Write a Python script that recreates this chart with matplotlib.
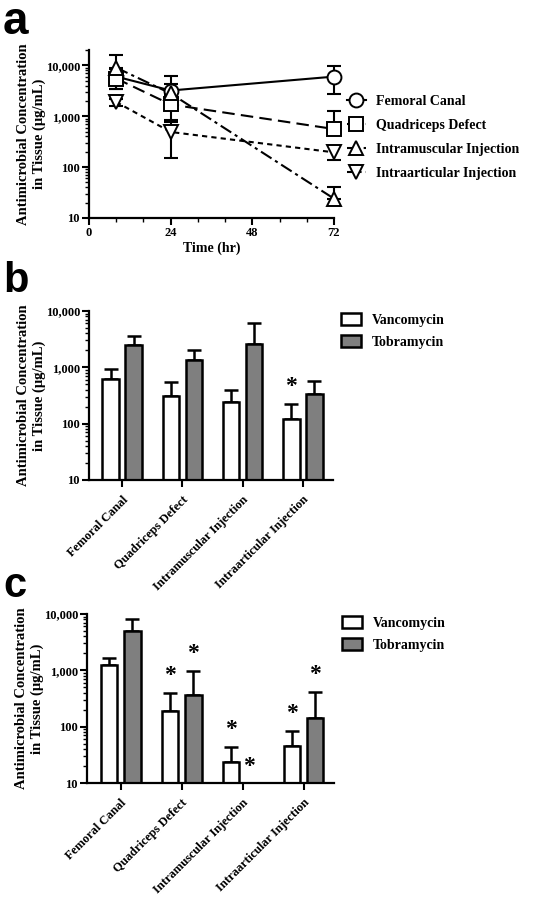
import numpy as np
import matplotlib
matplotlib.use("Agg")
import matplotlib.pyplot as plt
from matplotlib.lines import Line2D
from matplotlib.ticker import FixedLocator, MultipleLocator, LogLocator, NullFormatter

plt.rcParams["font.family"] = ["Liberation Serif", "DejaVu Serif"]
plt.rcParams["font.weight"] = "bold"

# panel a: concentration over time (lower / upper error lengths)
times = [8, 24, 72]
sites = ["Femoral Canal", "Quadriceps Defect", "Intramuscular Injection", "Intraarticular Injection"]
femoral = [6000, 3200, 6000]
femoral_lo = [2500, 1100, 3300]
femoral_hi = [2500, 1100, 3800]
quadriceps = [5500, 1700, 560]
quadriceps_lo = [2000, 930, 0]
quadriceps_hi = [2000, 930, 700]
intramuscular = [9000, 2800, 24]
intramuscular_lo = [0, 0, 0]
intramuscular_hi = [6700, 3500, 17]
intraarticular = [1900, 490, 195]
intraarticular_lo = [300, 340, 60]
intraarticular_hi = [300, 340, 60]

# panel b / c: bars
groups = ["Femoral Canal", "Quadriceps Defect", "Intramuscular Injection", "Intraarticular Injection"]
b_vanco = [630, 305, 243, 121]
b_vanco_err = [300, 235, 157, 99]
b_tobra = [2530, 1370, 2600, 340]
b_tobra_err = [1020, 690, 3500, 230]
b_vanco_star = [False, False, False, True]
b_tobra_star = [False, False, False, False]

c_vanco = [1260, 190, 24, 45]
c_vanco_err = [400, 210, 19, 40]
c_tobra = [4990, 360, np.nan, 145]
c_tobra_err = [3310, 630, np.nan, 265]
c_vanco_star = [False, True, True, True]
c_tobra_star = [False, True, True, True]

W, H = 545, 900
fig = plt.figure(figsize=(W / 100, H / 100), dpi=100)


def px_axes(left, top, right, bottom):
    return fig.add_axes([left / W, 1 - bottom / H, (right - left) / W, (bottom - top) / H])


def style_log_axis(ax):
    ax.set_yscale("log")
    ax.yaxis.set_major_locator(FixedLocator([10, 100, 1000, 10000]))
    ax.set_yticklabels(["10", "100", "1,000", "10,000"])
    ax.yaxis.set_minor_locator(LogLocator(base=10, subs=np.arange(2, 10)))
    ax.yaxis.set_minor_formatter(NullFormatter())
    for s in ["top", "right"]:
        ax.spines[s].set_visible(False)
    for s in ["left", "bottom"]:
        ax.spines[s].set_linewidth(1.6)
    ax.tick_params(axis="both", which="major", width=1.5, length=5, labelsize=9, pad=1.5)
    ax.tick_params(axis="y", which="minor", width=1.0, length=3)
    for lbl in ax.get_yticklabels() + ax.get_xticklabels():
        lbl.set_fontweight("bold")
    ax.set_ylabel("Antimicrobial Concentration\nin Tissue (\u03bcg/mL)", fontsize=10.5, fontweight="bold", labelpad=0)


# ---- panel a ----
ax = px_axes(89, 50, 334, 218)
series = [
    (femoral, femoral_lo, femoral_hi, "o", "-"),
    (quadriceps, quadriceps_lo, quadriceps_hi, "s", (0, (6, 3))),
    (intramuscular, intramuscular_lo, intramuscular_hi, "^", (0, (6, 2, 1.5, 2))),
    (intraarticular, intraarticular_lo, intraarticular_hi, "v", (0, (2.5, 2))),
]
handles = []
for (vals, lo, hi, mk, ls), name in zip(series, sites):
    ax.errorbar(times, vals, yerr=[lo, hi], fmt="none", ecolor="black", elinewidth=1.5, capsize=5,
                capthick=1.5, zorder=2, clip_on=False)
    ax.plot(times, vals, color="black", linestyle=ls, linewidth=1.5, zorder=1)
    ax.plot(times, vals, linestyle="none", marker=mk, markersize=10, markerfacecolor="white",
            markeredgecolor="black", markeredgewidth=1.4, zorder=3, clip_on=False)
    handles.append(Line2D([], [], color="black", linestyle=ls, linewidth=1.5, marker=mk, markersize=10,
                          markerfacecolor="white", markeredgecolor="black", markeredgewidth=1.4, label=name))
ax.set_xlim(0, 72)
ax.set_ylim(10, 20000)
ax.xaxis.set_major_locator(FixedLocator([0, 24, 48, 72]))
ax.xaxis.set_minor_locator(MultipleLocator(8))
ax.tick_params(axis="x", which="minor", width=1.0, length=3)
style_log_axis(ax)
ax.set_xlabel("Time (hr)", fontsize=10, fontweight="bold", labelpad=2)
ax.legend(handles=handles, loc="center left", bbox_to_anchor=(1.0, 0.48), frameon=False,
          prop={"weight": "bold", "size": 10}, handlelength=1.4, handletextpad=0.7, labelspacing=0.78)


# ---- panels b and c ----
def bar_panel(ax, vanco, vanco_err, tobra, tobra_err, vstar, tstar):
    x = np.arange(len(groups))
    off, bw = 0.19, 0.275
    lo = np.zeros(len(groups))
    ax.bar(x - off, vanco, width=bw, bottom=0, color="white", edgecolor="black", linewidth=1.8, label="Vancomycin", zorder=2)
    ax.bar(x + off, tobra, width=bw, bottom=0, color="#7f7f7f", edgecolor="black", linewidth=1.8, label="Tobramycin", zorder=2)
    ax.errorbar(x - off, vanco, yerr=[lo, vanco_err], fmt="none", ecolor="black", elinewidth=1.8, capsize=5, capthick=1.8, zorder=1)
    ax.errorbar(x + off, tobra, yerr=[lo, tobra_err], fmt="none", ecolor="black", elinewidth=1.8, capsize=5, capthick=1.8, zorder=1)
    for xs, vals, errs, stars in [(x - off, vanco, vanco_err, vstar), (x + off, tobra, tobra_err, tstar)]:
        for xi, v, e, st in zip(xs, vals, errs, stars):
            if not st:
                continue
            if np.isnan(v):
                ax.text(xi - 0.08, 20, "*", ha="center", va="center", fontsize=17, fontweight="bold")
            else:
                ax.text(xi, (v + e) * 2.05, "*", ha="center", va="center", fontsize=17, fontweight="bold")
    ax.set_xlim(-0.55, 3.5)
    ax.set_ylim(10, 10000)
    ax.set_xticks(x)
    ax.set_xticklabels(groups, rotation=45, ha="right", rotation_mode="anchor")
    style_log_axis(ax)
    ax.tick_params(axis="x", which="major", pad=5)
    ax.legend(loc="upper left", bbox_to_anchor=(1.0, 1.04), frameon=False, prop={"weight": "bold", "size": 10},
              handlelength=1.4, handleheight=1.0, labelspacing=0.6, handletextpad=0.8, borderaxespad=0.2)


axb = px_axes(89, 311, 333, 480)
bar_panel(axb, b_vanco, b_vanco_err, b_tobra, b_tobra_err, b_vanco_star, b_tobra_star)

axc = px_axes(87, 614, 334, 783)
bar_panel(axc, c_vanco, c_vanco_err, c_tobra, c_tobra_err, c_vanco_star, c_tobra_star)

for letter, ypx, size in [("a", 34, 33), ("b", 292, 30), ("c", 597, 30)]:
    fig.text(3 / W, 1 - ypx / H, letter, fontsize=size, fontweight="bold", family=["Liberation Sans", "DejaVu Sans"],
             ha="left", va="baseline")

fig.savefig("out.png", dpi=100)
